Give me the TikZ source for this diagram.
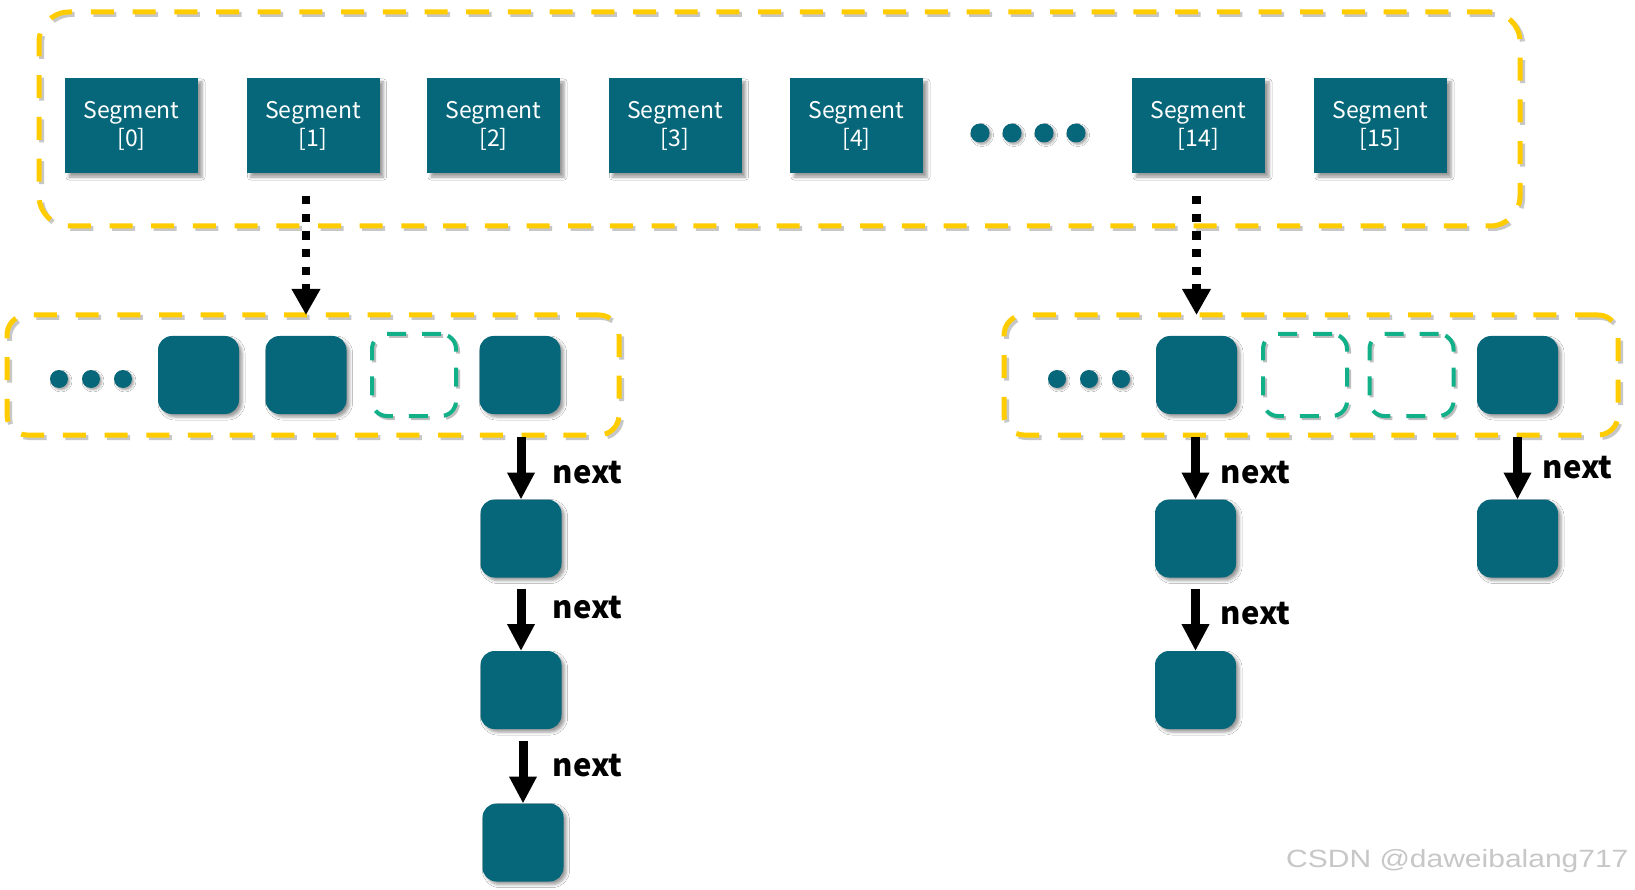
\documentclass[tikz,border=0pt]{standalone}
\usepackage{fontspec}
\newfontfamily\cjk{Noto Sans CJK SC}
\newfontfamily\wmfont[FakeStretch=1.2]{Liberation Sans}
\usetikzlibrary{arrows.meta,shadows.blur,calc}
\definecolor{segteal}{RGB}{6,103,123}
\definecolor{dashyellow}{RGB}{255,204,0}
\definecolor{dashgreen}{RGB}{18,176,136}
\begin{document}
\begin{tikzpicture}[x=1pt,y=-1pt,
  segbox/.style={rectangle, fill=segteal, text=white, minimum width=133pt, minimum height=95pt,
    inner sep=0pt, outer sep=0pt, align=center, font=\cjk\fontsize{23}{28}\selectfont,
    blur shadow={shadow xshift=4pt, shadow yshift=-4pt, shadow blur radius=3pt, shadow opacity=40}},
  slot/.style={rectangle, rounded corners=14pt, fill=segteal, minimum width=81pt, minimum height=78pt,
    inner sep=0pt, outer sep=0pt,
    blur shadow={shadow xshift=3pt, shadow yshift=-3pt, shadow blur radius=3pt, shadow opacity=40}},
  emptyslot/.style={rectangle, rounded corners=15pt, draw=dashgreen, line width=4pt,
    dash pattern=on 19pt off 16pt, minimum width=84pt, minimum height=82pt, inner sep=0pt, outer sep=0pt,
    preaction={draw=black!25, transform canvas={shift={(2pt,-2pt)}}}},
  container/.style={rectangle, draw=dashyellow, line width=5pt, dash pattern=on 23pt off 18.7pt,
    inner sep=0pt, outer sep=0pt,
    preaction={draw=black!22, transform canvas={shift={(2.5pt,-2.5pt)}}}},
  bigdot/.style={circle, fill=segteal, minimum size=19pt, inner sep=0pt,
    blur shadow={shadow xshift=2pt, shadow yshift=-2pt, shadow blur radius=2pt, shadow opacity=35}},
  smalldot/.style={circle, fill=segteal, minimum size=18pt, inner sep=0pt,
    blur shadow={shadow xshift=2pt, shadow yshift=-2pt, shadow blur radius=2pt, shadow opacity=35}},
  nextarrow/.style={draw=black, line width=9pt, -{Triangle[width=26pt,length=27pt]}},
  ptrarrow/.style={draw=black, line width=8.5pt, dash pattern=on 8.3pt off 9.4pt,
    -{Triangle[width=27pt,length=26pt]}},
  nextlabel/.style={font=\cjk\bfseries\fontsize{31}{31}\selectfont, anchor=base, inner sep=0pt}
]
\useasboundingbox (0,0) rectangle (1635,890);
\fill[white] (0,0) rectangle (1635,890);

% top container
\node[container, rounded corners=30pt, minimum width=1481pt, minimum height=214pt] (top) at (779.5,119) {};
\node[segbox] (seg0) at (131.5,125.5) {Segment\\{[0]}};
\node[segbox] (seg1) at (313,125.5) {Segment\\{[1]}};
\node[segbox] (seg2) at (493.5,125.5) {Segment\\{[2]}};
\node[segbox] (seg3) at (675,125.5) {Segment\\{[3]}};
\node[segbox] (seg4) at (856.5,125.5) {Segment\\{[4]}};
\node[segbox] (seg14) at (1198.5,125.5) {Segment\\{[14]}};
\node[segbox] (seg15) at (1380.5,125.5) {Segment\\{[15]}};
\node[bigdot] (td1) at (980,133) {};
\node[bigdot] (td2) at (1012,133) {};
\node[bigdot] (td3) at (1044,133) {};
\node[bigdot] (td4) at (1076,133) {};

% left lower container
\node[container, rounded corners=20pt, minimum width=612pt, minimum height=120pt] (lcont) at (313,375) {};
\node[smalldot] (ld1) at (59,379) {};
\node[smalldot] (ld2) at (91,379) {};
\node[smalldot] (ld3) at (123,379) {};
\node[slot] (lb1) at (198.5,375) {};
\node[slot] (lb2) at (306,375) {};
\node[emptyslot] (le) at (414,375) {};
\node[slot] (lb4) at (520,375) {};

% right lower container
\node[container, rounded corners=20pt, minimum width=614pt, minimum height=120pt] (rcont) at (1311,375) {};
\node[smalldot] (rd1) at (1057,379) {};
\node[smalldot] (rd2) at (1089,379) {};
\node[smalldot] (rd3) at (1121,379) {};
\node[slot] (rb1) at (1196.5,375) {};
\node[emptyslot] (re1) at (1305,375) {};
\node[emptyslot] (re2) at (1411.5,375) {};
\node[slot] (rb4) at (1517.5,375) {};

% chains
\node[slot] (lc1) at (521,538.5) {};
\node[slot] (lc2) at (521,690) {};
\node[slot] (lc3) at (523,842.5) {};
\node[slot] (rc1) at (1195.5,538.5) {};
\node[slot] (rc2) at (1195.5,690) {};
\node[slot] (rr1) at (1517.5,538.5) {};

% pointer arrows
\draw[ptrarrow] ($(seg1.south -| lb2)+(0,23)$) -- (lcont.north -| lb2);
\draw[ptrarrow] ($(seg14.south -| rb1)+(0,23)$) -- (rcont.north -| rb1);

% next arrows
\draw[nextarrow] ($(lcont.south -| lc1)+(0,2)$) -- (lc1.north);
\draw[nextarrow] ($(lc1.south)+(0,11)$) -- (lc2.north);
\draw[nextarrow] ($(lc2.south -| lc3)+(0,12)$) -- (lc3.north);
\draw[nextarrow] ($(rcont.south -| rc1)+(0,2)$) -- (rc1.north);
\draw[nextarrow] ($(rc1.south)+(0,11)$) -- (rc2.north);
\draw[nextarrow] ($(rcont.south -| rr1)+(0,2)$) -- (rr1.north);

\node[nextlabel] (nl1) at (587.5,483) {next};
\node[nextlabel] (nl2) at (587.5,618) {next};
\node[nextlabel] (nl3) at (587.5,776) {next};
\node[nextlabel] (nr1) at (1255.5,483) {next};
\node[nextlabel] (nr2) at (1255.5,624) {next};
\node[nextlabel] (nrr) at (1577.5,478) {next};

% watermark
\node[font=\wmfont\fontsize{25}{25}\selectfont, text=black!22, anchor=base west, inner sep=0pt] (wm) at (1286,867) {CSDN @daweibalang717};
\end{tikzpicture}
\end{document}
